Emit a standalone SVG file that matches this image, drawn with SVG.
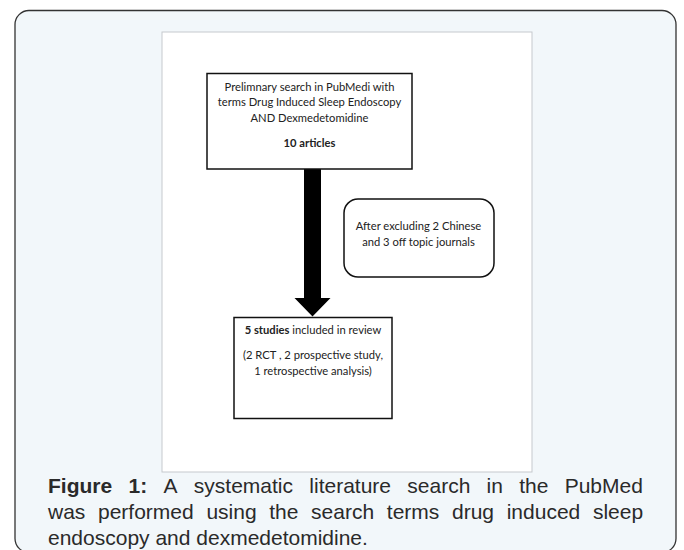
<svg xmlns="http://www.w3.org/2000/svg" width="684" height="550" viewBox="0 0 684 550">
<style>
.frame{fill:#f2f7fa;stroke:#333;stroke-width:1.3}
.panel{fill:#fff;stroke:#c5c9cd;stroke-width:1}
.box{fill:#fff;stroke:#111;stroke-width:1.5}
.t{font-family:Lato,"Liberation Sans",Arial,sans-serif;font-size:11.2px;fill:#222;text-anchor:middle}
.b{font-weight:bold}
.cap{font-family:"Liberation Sans",Arial,sans-serif;font-size:21px;fill:#2a2a2a}
</style>
<rect class="frame" x="15" y="10.5" width="661" height="542" rx="14"/>
<rect class="panel" x="162" y="32" width="370" height="440"/>
<g id="connectors">
<path d="M304,169 L321,169 L321,298 L330.5,298 L312.5,316.5 L294.5,298 L304,298 Z" fill="#000"/>
</g>
<g id="node-search">
<rect class="box" x="207" y="73.5" width="205" height="95.5"/>
<text class="t" x="309.5" y="90.7">Prelimnary search in PubMedi with</text>
<text class="t" x="309.5" y="106.3">terms Drug Induced Sleep Endoscopy</text>
<text class="t" x="309.5" y="122">AND Dexmedetomidine</text>
<text class="t b" x="309.5" y="146.7">10 articles</text>
</g>
<g id="node-exclude">
<rect class="box" x="344" y="199" width="150" height="78" rx="14"/>
<text class="t" x="418.5" y="229.7">After excluding 2 Chinese</text>
<text class="t" x="418.5" y="245.7">and 3 off topic journals</text>
</g>
<g id="node-included">
<rect class="box" x="234" y="317.5" width="158" height="101"/>
<text class="t" x="313" y="334"><tspan class="b">5 studies</tspan> included in review</text>
<text class="t" x="313" y="359">(2 RCT , 2 prospective study,</text>
<text class="t" x="313" y="374.7">1 retrospective analysis)</text>
</g>
<g id="caption">
<text class="cap" y="493"><tspan x="48" font-weight="bold">Figure</tspan><tspan x="128.5" font-weight="bold">1:</tspan><tspan x="163.5">A</tspan><tspan x="193.8">systematic</tspan><tspan x="309.3">literature</tspan><tspan x="407.3">search</tspan><tspan x="486.6">in</tspan><tspan x="519.2">the</tspan><tspan x="564.7">PubMed</tspan></text>
<text class="cap" y="519"><tspan x="48">was</tspan><tspan x="98">performed</tspan><tspan x="206.4">using</tspan><tspan x="269.2">the</tspan><tspan x="311.1">search</tspan><tspan x="386.8">terms</tspan><tspan x="452">drug</tspan><tspan x="506.7">induced</tspan><tspan x="592.9">sleep</tspan></text>
<text class="cap" x="48" y="545">endoscopy and dexmedetomidine.</text>
</g>
</svg>
